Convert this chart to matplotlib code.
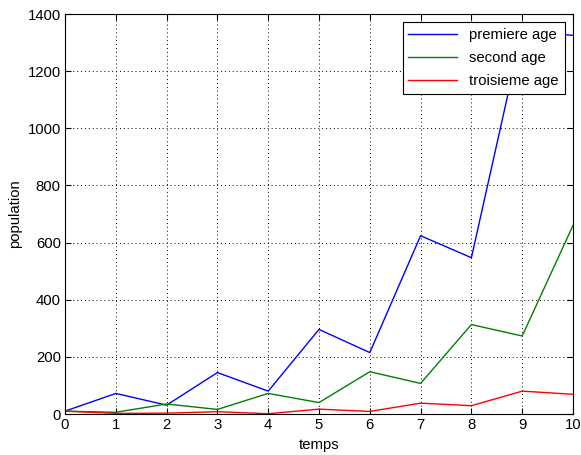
import matplotlib
matplotlib.use("Agg")
import matplotlib.pyplot as plt
import numpy as np

temps = np.arange(0, 11)
premiere = [10, 72, 31, 145, 80, 296, 215, 624, 547, 1342, 1325]
second = [10, 6, 35, 16, 72, 40, 148, 107, 313, 273, 660]
troisieme = [10, 2, 3, 8, 1, 17, 9, 38, 29, 80, 69]

plt.rcParams['font.family'] = ['Liberation Sans', 'DejaVu Sans']
plt.rcParams['font.size'] = 10.7

fig = plt.figure(figsize=(5.81, 4.55), dpi=100)
ax = fig.add_axes([65 / 581, 41 / 455, 508 / 581, 400 / 455])

ax.plot(temps, premiere, color=(0, 0, 1), lw=1, label="premiere age")
ax.plot(temps, second, color=(0, 0.5, 0), lw=1, label="second age")
ax.plot(temps, troisieme, color=(1, 0, 0), lw=1, label="troisieme age")

ax.set_xlim(0, 10)
ax.set_ylim(0, 1400)
ax.set_xticks(range(0, 11))
ax.set_yticks(range(0, 1401, 200))
ax.grid(True, color="black", linestyle=(0, (1, 3)), lw=0.7)
ax.tick_params(direction="in", top=True, right=True, length=4, width=0.8, pad=3)
for s in ax.spines.values():
    s.set_linewidth(0.8)

ax.set_xlabel("temps", labelpad=4)
ax.set_ylabel("population", labelpad=4)

leg = ax.legend(loc="upper right", fancybox=False, framealpha=1, edgecolor="black",
                handlelength=3.3, borderaxespad=0.55, labelspacing=0.6,
                fontsize=10.7, borderpad=0.4)
leg.get_frame().set_linewidth(0.8)

fig.savefig("out.png", dpi=100)
